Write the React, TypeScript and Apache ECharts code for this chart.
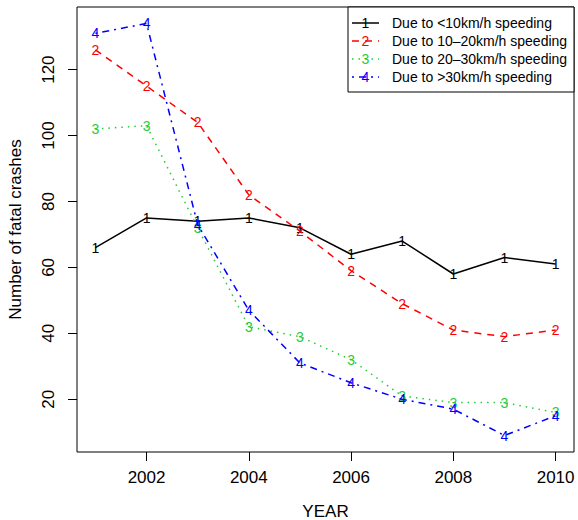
import React, { useEffect, useRef } from "react";
import * as echarts from "echarts";

const years = [2001, 2002, 2003, 2004, 2005, 2006, 2007, 2008, 2009, 2010];
const under10 = [66, 75, 74, 75, 72, 64, 68, 58, 63, 61];
const from10to20 = [126, 115, 104, 82, 71, 59, 49, 41, 39, 41];
const from20to30 = [102, 103, 72, 42, 39, 32, 21, 19, 19, 16];
const over30 = [131, 134, 73, 47, 31, 25, 20, 17, 9, 15];

const seriesNames = [
  "Due to <10km/h speeding",
  "Due to 10\u201320km/h speeding",
  "Due to 20\u201330km/h speeding",
  "Due to >30km/h speeding",
];
const seriesMarks = ["1", "2", "3", "4"];
const seriesColors = ["#000000", "#FF0000", "#22CC33", "#0000FF"];
const seriesDashes: (number[] | null)[] = [null, [7, 6], [1.5, 5], [2, 5, 7, 5]];
const xTicks = [2002, 2004, 2006, 2008, 2010];
const yTicks = [20, 40, 60, 80, 100, 120];

const FONT = "'Liberation Sans', Arial, Helvetica, sans-serif";

export default function App() {
  const ref = useRef<HTMLDivElement>(null);

  useEffect(() => {
    if (!ref.current) return;
    const chart = echarts.init(ref.current, undefined, { renderer: "svg" });
    const allData = [under10, from10to20, from20to30, over30];

    const series = allData.map((vals, i) => ({
      name: seriesNames[i],
      type: "line",
      data: years.map((y, j) => [y, vals[j]]),
      symbol: "circle",
      symbolSize: 10,
      showSymbol: true,
      itemStyle: { color: "rgba(0,0,0,0)", borderWidth: 0 },
      lineStyle: {
        color: seriesColors[i],
        width: 1.5,
        type: seriesDashes[i] ? seriesDashes[i] : "solid",
      },
      label: {
        show: true,
        position: "inside",
        formatter: () => seriesMarks[i],
        color: seriesColors[i],
        fontSize: 14,
        fontFamily: FONT,
      },
      emphasis: { disabled: true },
      z: 2 + i,
    }));

    const legX = 348;
    const legY = 7;
    const rowY = [23, 41, 59, 77];
    const legendEls: any[] = [
      {
        type: "rect",
        shape: { x: legX, y: legY, width: 226, height: 85 },
        style: { fill: "#fff", stroke: "#000", lineWidth: 1 },
        z: 10,
      },
    ];
    seriesNames.forEach((name, i) => {
      legendEls.push({
        type: "line",
        shape: { x1: 352, y1: rowY[i], x2: 379, y2: rowY[i] },
        style: {
          stroke: seriesColors[i],
          lineWidth: 1.5,
          lineDash: seriesDashes[i] ? seriesDashes[i] : null,
        },
        z: 11,
      });
      legendEls.push({
        type: "text",
        x: 365.5,
        y: rowY[i],
        style: {
          text: seriesMarks[i],
          fill: seriesColors[i],
          font: `14px ${FONT}`,
          align: "center",
          verticalAlign: "middle",
        },
        z: 12,
      });
      legendEls.push({
        type: "text",
        x: 392,
        y: rowY[i],
        style: {
          text: name,
          fill: "#000",
          font: `14px ${FONT}`,
          align: "left",
          verticalAlign: "middle",
        },
        z: 12,
      });
    });

    chart.setOption({
      animation: false,
      backgroundColor: "#fff",
      textStyle: { fontFamily: FONT },
      grid: {
        left: 77,
        top: 7,
        right: 4,
        bottom: 68,
        containLabel: false,
        outerBoundsMode: "none",
        show: true,
        borderColor: "#000",
        borderWidth: 1,
        backgroundColor: "transparent",
      },
      xAxis: {
        type: "value",
        min: 2000.64,
        max: 2010.36,
        name: "YEAR",
        nameLocation: "middle",
        nameGap: 51,
        nameTextStyle: { fontSize: 17, color: "#000", fontFamily: FONT },
        axisLine: { show: false },
        splitLine: { show: false },
        axisTick: {
          show: true,
          length: 9,
          customValues: xTicks,
          lineStyle: { color: "#000", width: 1 },
        },
        axisLabel: {
          customValues: xTicks,
          fontSize: 17,
          color: "#000",
          margin: 17,
          fontFamily: FONT,
          formatter: (v: number) => String(v),
        },
      },
      yAxis: {
        type: "value",
        min: 4,
        max: 139,
        name: "Number of fatal crashes",
        nameLocation: "middle",
        nameGap: 53,
        nameRotate: 90,
        nameTextStyle: { fontSize: 17, color: "#000", fontFamily: FONT },
        axisLine: { show: false },
        splitLine: { show: false },
        axisTick: {
          show: true,
          length: 9,
          customValues: yTicks,
          lineStyle: { color: "#000", width: 1 },
        },
        axisLabel: {
          customValues: yTicks,
          rotate: 90,
          fontSize: 17,
          color: "#000",
          margin: 20,
          fontFamily: FONT,
          formatter: (v: number) => String(v),
        },
      },
      series,
      graphic: legendEls,
    });

    return () => chart.dispose();
  }, []);

  return (
    <div
      ref={ref}
      style={{ position: "fixed", left: 0, top: 0, width: 578, height: 520, background: "#fff" }}
    />
  );
}
